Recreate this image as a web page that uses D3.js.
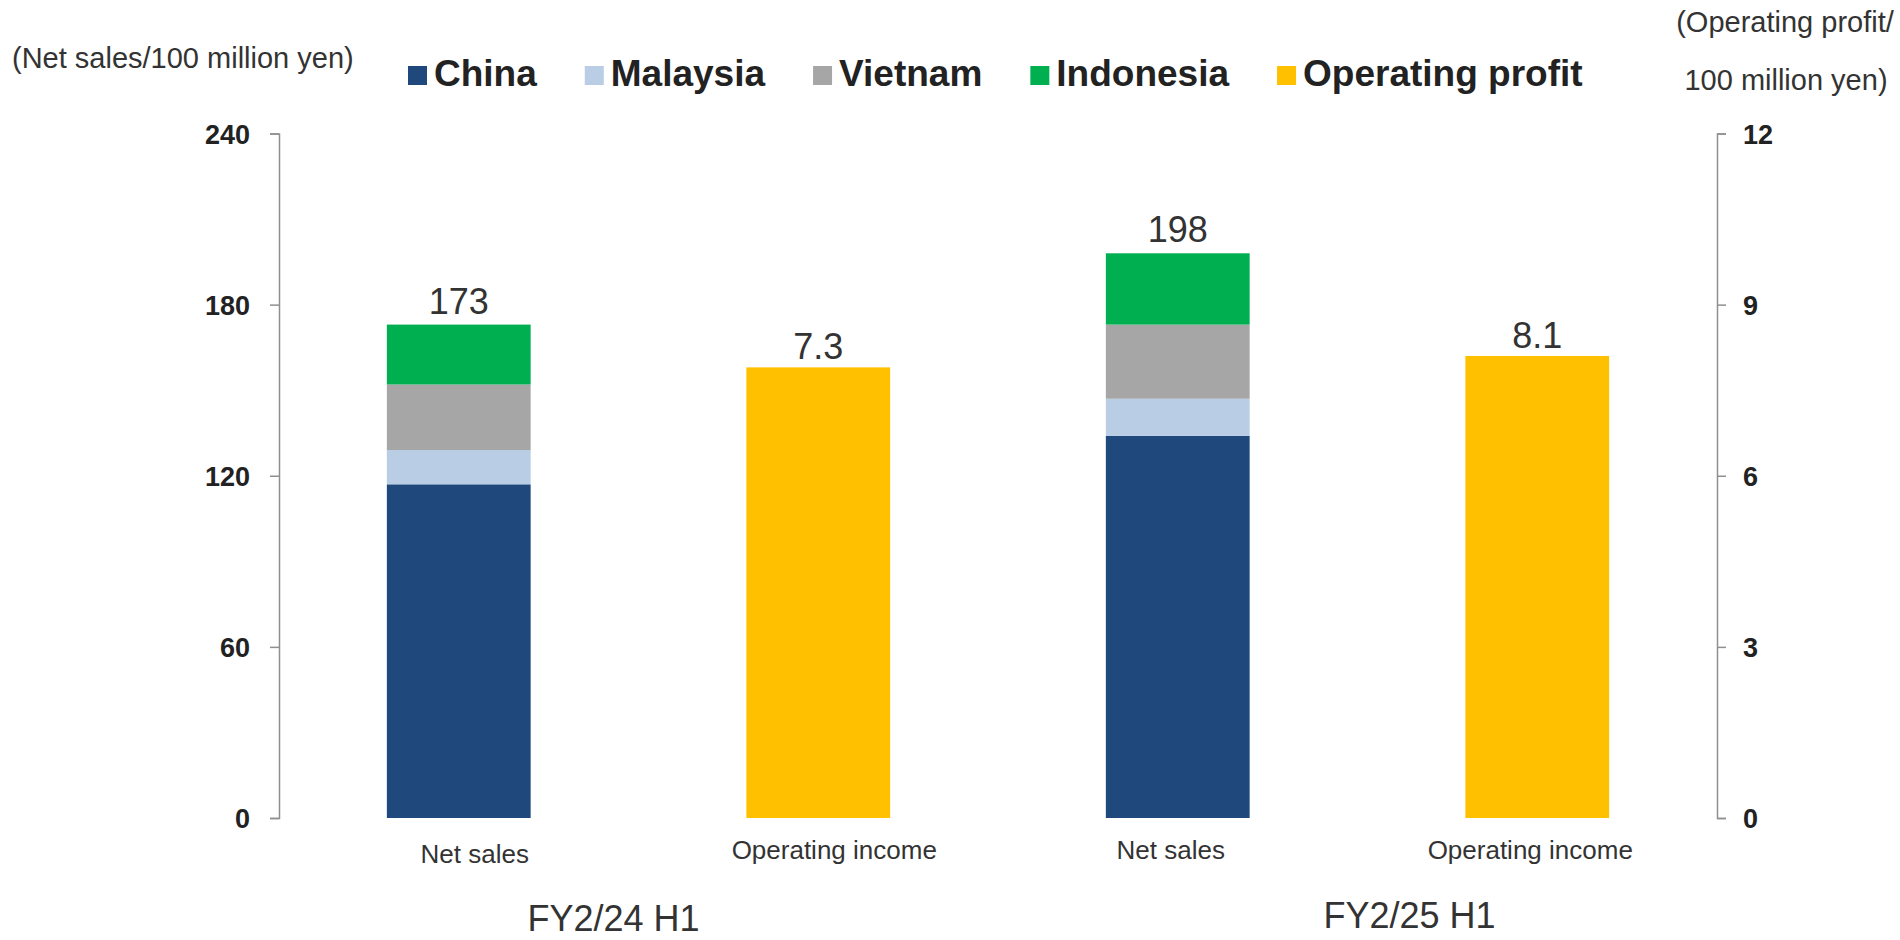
<!DOCTYPE html>
<html>
<head>
<meta charset="utf-8">
<script src="https://cdn.jsdelivr.net/npm/d3@7"></script>
<style>
  body { margin: 0; background: #fff; }
  svg text { font-family: Arial, "Liberation Sans", sans-serif; }
</style>
</head>
<body>
<div id="chart"></div>
<script>
// Data
const periods = ['FY2/24 H1', 'FY2/25 H1']
const regions = ['China', 'Malaysia', 'Vietnam', 'Indonesia']
const china = [117, 134]
const malaysia = [12, 13]
const vietnam = [23, 26]
const indonesia = [21, 25]
const netSalesTotal = [173, 198]
const opProfit = [7.3, 8.1]          // printed labels
const opProfitBar = [7.9, 8.1]       // bar heights as drawn in the reference
const leftTicks = [0, 60, 120, 180, 240]
const rightTicks = [0, 3, 6, 9, 12]
const barNames = ['Net sales', 'Operating income']

const colors = {
    China: '#1F497D', Malaysia: '#B9CDE5', Vietnam: '#A6A6A6',
    Indonesia: '#00B050', 'Operating profit': '#FFC000'
}

const W = 1900, H = 940
const margin = {top: 133.5, right: 183, bottom: 122, left: 279}
const width = W - margin.left - margin.right
const height = H - margin.top - margin.bottom

const svg = d3.select('#chart').append('svg')
    .attr('width', W).attr('height', H)
    .attr('viewBox', `0 0 ${W} ${H}`)

const g = svg.append('g')
    .attr('transform', `translate(${margin.left},${margin.top})`)

// one slot per bar: [period, kind]
const slots = []
periods.forEach((p, i) => barNames.forEach(b => slots.push({period: p, i, kind: b, key: p + '|' + b})))

const x = d3.scaleBand()
    .domain(slots.map(d => d.key))
    .range([0, width])
    .paddingInner(0.6)
    .paddingOuter(0.3)

const yL = d3.scaleLinear().domain([0, 240]).range([height, 0])
const yR = d3.scaleLinear().domain([0, 12]).range([height, 0])

// Axes
const axisStyle = sel => {
    sel.selectAll('path, line').attr('stroke', '#8f8f8f').attr('stroke-width', 1.5)
    sel.selectAll('text')
        .attr('font-size', 27).attr('font-weight', 'bold').attr('fill', '#222')
}

g.append('g')
    .call(d3.axisLeft(yL).tickValues(leftTicks).tickSize(9).tickPadding(20))
    .call(axisStyle)
    .selectAll('text').attr('dy', '0.36em')

g.append('g')
    .attr('transform', `translate(${width},0)`)
    .call(d3.axisRight(yR).tickValues(rightTicks).tickSize(9).tickPadding(17))
    .call(axisStyle)
    .selectAll('text').attr('dy', '0.36em')

// Stacked net sales
const rows = periods.map((p, i) => ({
    key: p + '|Net sales',
    China: china[i], Malaysia: malaysia[i], Vietnam: vietnam[i], Indonesia: indonesia[i]
}))
const stacked = d3.stack().keys(regions)(rows)

g.selectAll('.layer')
    .data(stacked).enter().append('g')
    .attr('fill', d => colors[d.key])
    .selectAll('rect')
    .data(d => d).enter().append('rect')
    .attr('x', d => x(d.data.key))
    .attr('width', x.bandwidth())
    .attr('y', d => yL(d[1]))
    .attr('height', d => yL(d[0]) - yL(d[1]))

// Operating profit bars
g.selectAll('.op')
    .data(periods).enter().append('rect')
    .attr('fill', colors['Operating profit'])
    .attr('x', p => x(p + '|Operating income'))
    .attr('width', x.bandwidth())
    .attr('y', (p, i) => yR(opProfitBar[i]))
    .attr('height', (p, i) => height - yR(opProfitBar[i]))

// Value labels
periods.forEach((p, i) => {
    g.append('text')
        .attr('x', x(p + '|Net sales') + x.bandwidth() / 2)
        .attr('y', yL(netSalesTotal[i]) - 11)
        .attr('text-anchor', 'middle')
        .attr('font-size', 36).attr('fill', '#333')
        .text(netSalesTotal[i])
    g.append('text')
        .attr('x', x(p + '|Operating income') + x.bandwidth() / 2)
        .attr('y', yR(opProfitBar[i]) - 8)
        .attr('text-anchor', 'middle')
        .attr('font-size', 36).attr('fill', '#333')
        .text(opProfit[i].toFixed(1))
})

// Bar names under the axis, slightly shifted per period as in the reference
const nameShift = [16, -7]
g.selectAll('.barname')
    .data(slots).enter().append('text')
    .attr('x', d => x(d.key) + x.bandwidth() / 2 + nameShift[d.i])
    .attr('y', d => height + (d.key === slots[0].key ? 45 : 41))
    .attr('text-anchor', 'middle')
    .attr('font-size', 26).attr('fill', '#333')
    .text(d => d.kind)

// Period labels
const periodShift = [-25, 52]
periods.forEach((p, i) => {
    const cx = (x(p + '|Net sales') + x(p + '|Operating income') + x.bandwidth()) / 2
    g.append('text')
        .attr('x', cx + periodShift[i])
        .attr('y', height + 113 - i * 3)
        .attr('text-anchor', 'middle')
        .attr('font-size', 36).attr('fill', '#333')
        .text(p)
})

// Axis titles
svg.append('text')
    .attr('x', 12).attr('y', 68)
    .attr('font-size', 29).attr('fill', '#333')
    .text('(Net sales/100 million yen)')

svg.append('text')
    .attr('x', 1785).attr('y', 32)
    .attr('text-anchor', 'middle')
    .attr('font-size', 29).attr('fill', '#333')
    .text('(Operating profit/')
svg.append('text')
    .attr('x', 1786).attr('y', 90)
    .attr('text-anchor', 'middle')
    .attr('font-size', 29).attr('fill', '#333')
    .text('100 million yen)')

// Legend
const legendKeys = regions.concat(['Operating profit'])
const legend = svg.append('g').attr('transform', 'translate(408,86)')
let lx = 0
legendKeys.forEach(k => {
    const item = legend.append('g').attr('transform', `translate(${lx},0)`)
    item.append('rect')
        .attr('x', 0).attr('y', -20)
        .attr('width', 19).attr('height', 19)
        .attr('fill', colors[k])
    const t = item.append('text')
        .attr('x', 26).attr('y', 0)
        .attr('font-size', 37).attr('font-weight', 'bold').attr('fill', '#222')
        .text(k)
    lx += 26 + t.node().getComputedTextLength() + 48
})
</script>
</body>
</html>
